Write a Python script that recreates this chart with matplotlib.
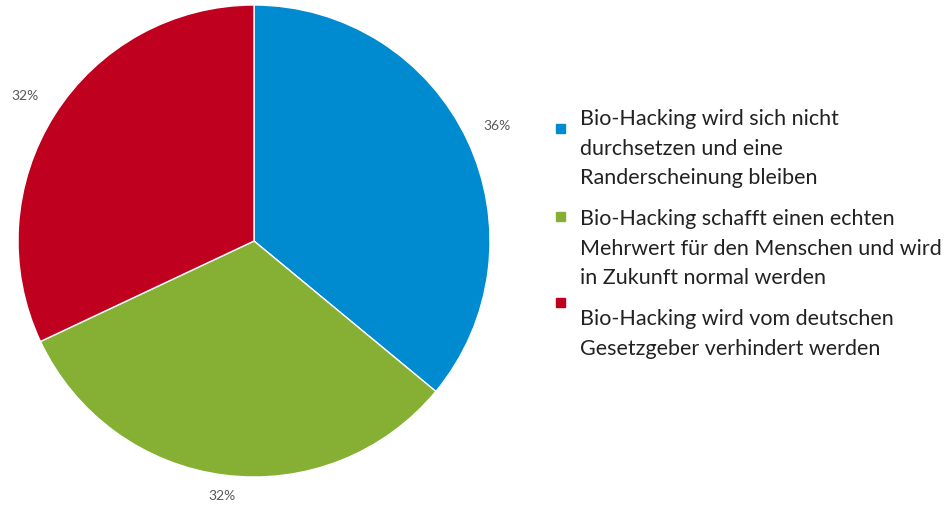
import numpy as np
import matplotlib.pyplot as plt
from matplotlib.patches import Rectangle

# Umfragewerte
labels = [
    "Bio-Hacking wird sich nicht\ndurchsetzen und eine\nRanderscheinung bleiben",
    "Bio-Hacking schafft einen echten\nMehrwert für den Menschen und wird\nin Zukunft normal werden",
    "Bio-Hacking wird vom deutschen\nGesetzgeber verhindert werden",
]
shares = [36, 32, 32]
colors = ["#008acf", "#86b034", "#c0001f"]

plt.rcParams["font.family"] = ["Lato", "DejaVu Sans"]

W, H = 952, 508
fig = plt.figure(figsize=(W / 100, H / 100), dpi=100)

# Kreis: Mittelpunkt (254, 241), Radius 236 px
cx, cy, r = 254, 241, 236
ax = fig.add_axes([(cx - r) / W, (H - cy - r) / H, 2 * r / W, 2 * r / H])
wedges, _ = ax.pie(
    shares, colors=colors, startangle=90, counterclock=False,
    wedgeprops=dict(linewidth=1.0, edgecolor="white"),
)
# Prozentangaben außerhalb der Segmente
label_dist = [1.14, 1.09, 1.15]
for w, s, d in zip(wedges, shares, label_dist):
    ang = np.deg2rad((w.theta1 + w.theta2) / 2)
    ax.text(d * np.cos(ang), d * np.sin(ang), f"{s}%", fontsize=10,
            color="#595959", ha="center", va="center")
ax.set_xlim(-1, 1)
ax.set_ylim(-1, 1)
ax.set_aspect("equal")
ax.axis("off")

# Legende
text_tops = [109, 209, 309]
box_centers = [128, 216, 302]
for lab, col, ty, by in zip(labels, colors, text_tops, box_centers):
    fig.add_artist(Rectangle((556 / W, (H - by - 4.5) / H), 9 / W, 9 / H,
                             transform=fig.transFigure, color=col))
    fig.text(580 / W, (H - ty) / H, lab, fontsize=15.5, color="#222222",
             va="top", ha="left", linespacing=1.6)

fig.savefig("out.png", dpi=100)
